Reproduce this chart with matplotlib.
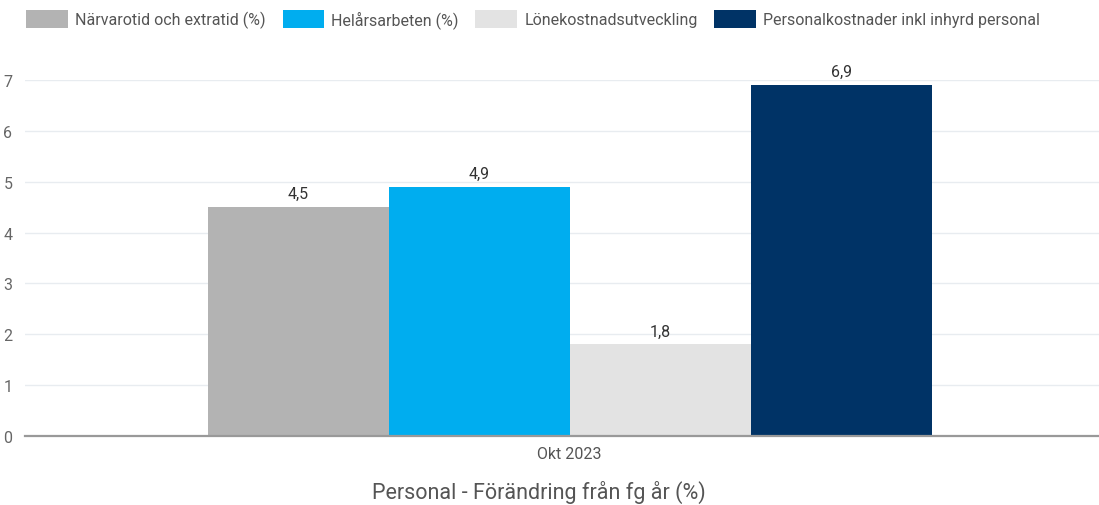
import matplotlib.pyplot as plt

plt.rcParams['font.family'] = ['Roboto', 'DejaVu Sans']

category = 'Okt 2023'
series = ['Närvarotid och extratid (%)', 'Helårsarbeten (%)',
          'Lönekostnadsutveckling', 'Personalkostnader inkl inhyrd personal']
values = [4.5, 4.9, 1.8, 6.9]
value_labels = ['4,5', '4,9', '1,8', '6,9']
colors = ['#b3b3b3', '#00adef', '#e3e3e3', '#003366']

fig = plt.figure(figsize=(10.99, 5.06), dpi=100)
ax = fig.add_axes([25 / 1099, 69 / 506, 1074 / 1099, 356 / 506])

width = 181 / 1074
for i, (name, v, lab, c) in enumerate(zip(series, values, value_labels, colors)):
    x = (i - 1.5) * width
    ax.bar(x, v, width=width, color=c, label=name, zorder=2)
    ax.text(x, v + 0.12, lab, ha='center', va='bottom', fontsize=11.5,
            color='#333333', clip_on=False)

ax.set_xlim(-0.507, 0.493)
ax.set_ylim(0, 7)
ax.set_yticks(range(8))
ax.set_xticks([0])
ax.set_xticklabels([category])
ax.tick_params(axis='y', length=0, pad=9, labelsize=11.5, labelcolor='#666666')
ax.tick_params(axis='x', length=0, pad=7, labelsize=11.5, labelcolor='#555555')
ax.grid(axis='y', color='#e8ecf0', linewidth=1, zorder=0)
for s in ['top', 'right', 'left']:
    ax.spines[s].set_visible(False)
ax.spines['bottom'].set_color('#999999')
ax.spines['bottom'].set_linewidth(1.6)
ax.spines['bottom'].set_zorder(3)

fig.text(539 / 1099, 1 - 492 / 506, 'Personal - Förändring från fg år (%)',
         ha='center', va='center', fontsize=15.5, color='#555555')

fig.legend(loc='upper left', bbox_to_anchor=(20 / 1099, 1 - 5 / 506), ncol=4,
           frameon=False, fontsize=11.5, handlelength=2.6, handleheight=1.3,
           handletextpad=0.45, columnspacing=1.05, labelcolor='#555555',
           borderaxespad=0)

fig.savefig('out.png', dpi=100)
